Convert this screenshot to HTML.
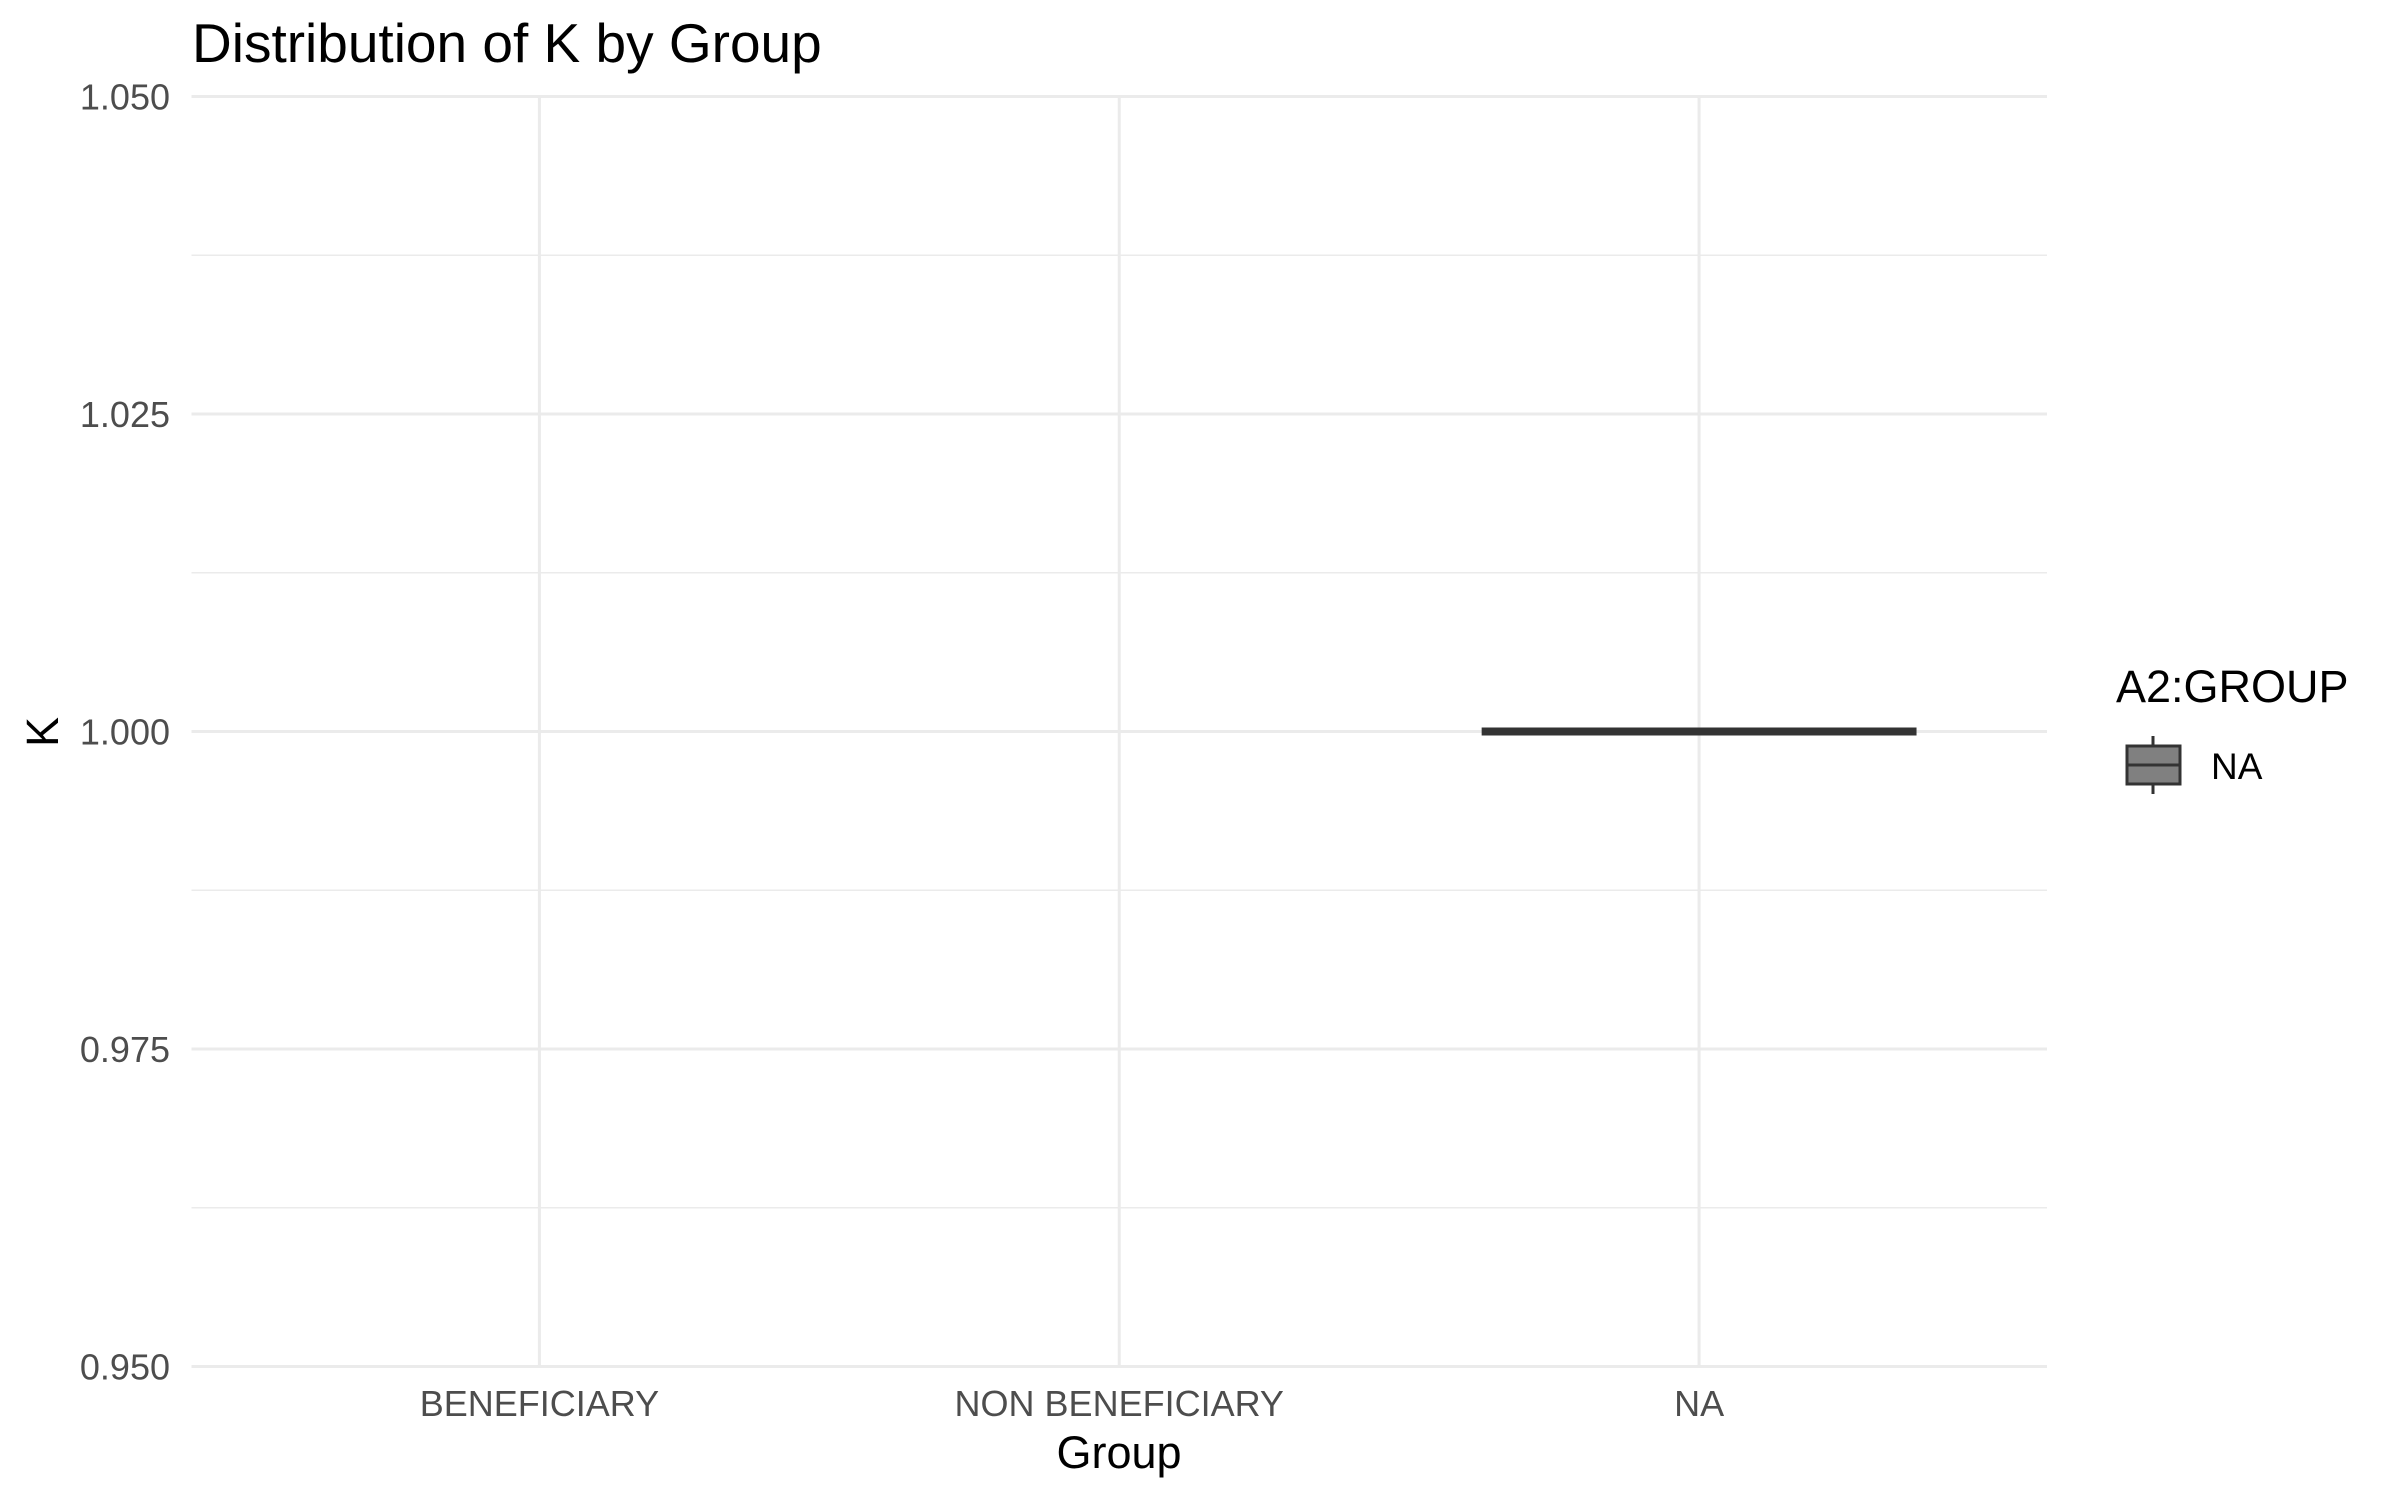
<!DOCTYPE html>
<html><head><meta charset="utf-8"><style>
html,body{margin:0;padding:0;background:#fff;}
svg{display:block;font-family:"Liberation Sans",Arial,sans-serif;}
</style></head><body>
<svg id="chart" width="2400" height="1500" viewBox="0 0 2400 1500">
<rect width="2400" height="1500" fill="#fff"/>
<g id="grid"></g>
<g id="marks"></g>
<g id="axes"></g>
<text x="192" y="62" font-size="55" fill="#000">Distribution of K by Group</text>
<text x="1119" y="1468" font-size="45" fill="#000" text-anchor="middle">Group</text>
<text transform="translate(58,732) rotate(-90)" font-size="45" fill="#000" text-anchor="middle">K</text>
<g>
<text x="2116" y="702" font-size="45" fill="#000">A2:GROUP</text>
<g>
<line x1="2153" y1="736" x2="2153" y2="794" stroke="#333" stroke-width="3"/>
<rect x="2127" y="746" width="53" height="38" fill="#808080" stroke="#333" stroke-width="3"/>
<line x1="2127" y1="765" x2="2180" y2="765" stroke="#333" stroke-width="3"/>
<text x="2211" y="779" font-size="37" fill="#000">NA</text>
</g>
</g>
</svg>
<script>
const categories = ["BENEFICIARY","NON BENEFICIARY","NA"];
const medians = [null,null,1.0];
const q1 = [null,null,1.0];
const q3 = [null,null,1.0];
const yTicks = [0.95,0.975,1.0,1.025,1.05];
const yTickLabels = ["0.950","0.975","1.000","1.025","1.050"];

const L=191.5,R=2047,T=96.5,B=1366.5,yMin=0.95,yMax=1.05;
const y=v=>B-(v-yMin)/(yMax-yMin)*(B-T);
const unit=(R-L)/(categories.length-1+1.2);
const x=i=>L+unit*(0.6+i);
const NS="http://www.w3.org/2000/svg";
const grid=document.getElementById('grid'),marks=document.getElementById('marks'),axes=document.getElementById('axes');
function mk(tag,attrs,parent){const e=document.createElementNS(NS,tag);for(const k in attrs)e.setAttribute(k,attrs[k]);parent.appendChild(e);return e;}

for(let i=0;i<yTicks.length-1;i++){
  const m=(yTicks[i]+yTicks[i+1])/2;
  const ln=mk('line',{x1:L,x2:R,y1:y(m),y2:y(m),stroke:'#ebebeb','stroke-width':1.5},grid);
  
  
}
yTicks.forEach((t,i)=>{
  const ln=mk('line',{x1:L,x2:R,y1:y(t),y2:y(t),stroke:'#ebebeb','stroke-width':3},grid);
  
  
  const tx=mk('text',{x:170,y:y(t)+13,'font-size':36,fill:'#4d4d4d','text-anchor':'end'},axes);
  tx.textContent=yTickLabels[i];
  
  
});
categories.forEach((c,i)=>{
  const ln=mk('line',{x1:x(i),x2:x(i),y1:T,y2:B,stroke:'#ebebeb','stroke-width':3},grid);
  
  
  const tx=mk('text',{x:x(i),y:1416,'font-size':36,fill:'#4d4d4d','text-anchor':'middle'},axes);
  tx.textContent=c;
  
  
  if(medians[i]!==null){
    const w=unit*0.75;
    const top=y(q3[i]),bot=y(q1[i]);
    const bx=mk('rect',{x:x(i)-w/2,y:top,width:w,height:Math.max(bot-top,0),fill:'#808080',stroke:'#333','stroke-width':3},marks);
    
    
    const md=mk('line',{x1:x(i)-w/2,x2:x(i)+w/2,y1:y(medians[i]),y2:y(medians[i]),stroke:'#333','stroke-width':8},marks);
    
    
  }
});
</script>
</body></html>
